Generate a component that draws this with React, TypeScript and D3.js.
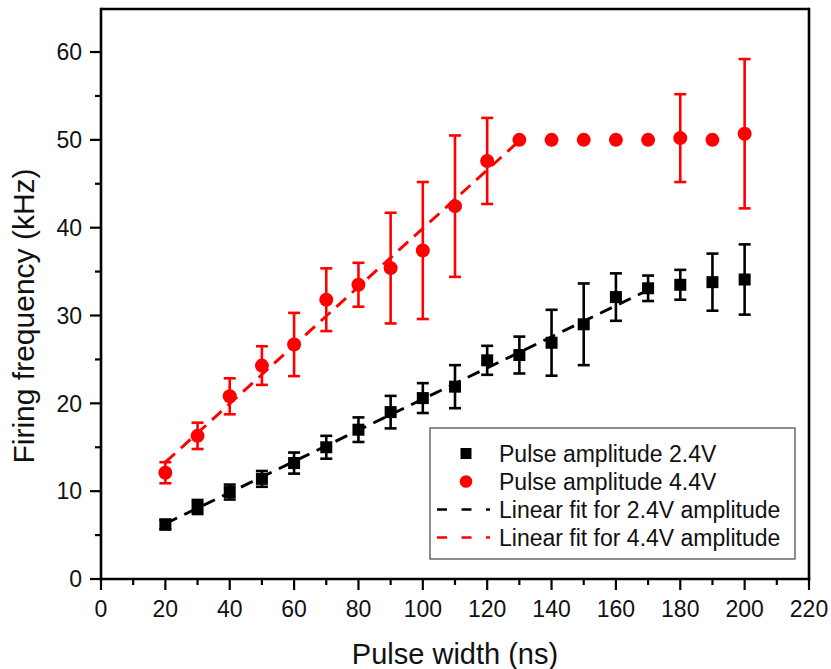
import React from "react";
import * as d3 from "d3";

const pulseWidths = [20, 30, 40, 50, 60, 70, 80, 90, 100, 110, 120, 130, 140, 150, 160, 170, 180, 190, 200];
const amp24 = [6.2, 8.2, 9.9, 11.4, 13.2, 15.0, 17.0, 19.0, 20.6, 21.9, 24.9, 25.5, 26.9, 29.0, 32.1, 33.1, 33.5, 33.8, 34.1];
const amp24Err = [0.55, 0.8, 0.85, 0.9, 1.2, 1.3, 1.4, 1.85, 1.7, 2.45, 1.65, 2.1, 3.75, 4.65, 2.7, 1.45, 1.7, 3.25, 4.0];
const amp44 = [12.1, 16.3, 20.8, 24.3, 26.7, 31.8, 33.5, 35.4, 37.4, 42.45, 47.6, 50, 50, 50, 50, 50, 50.2, 50, 50.7];
const amp44Err = [1.2, 1.5, 2.05, 2.2, 3.6, 3.57, 2.5, 6.3, 7.8, 8.05, 4.9, 0, 0, 0, 0, 0, 5.0, 0, 8.5];

const fit24X = [20, 170];
const fit24Y = [6.3, 32.9];
const fit44X = [20, 130];
const fit44Y = [13.3, 49.9];

const xTicks = [0, 20, 40, 60, 80, 100, 120, 140, 160, 180, 200, 220];
const xMinor = [10, 30, 50, 70, 90, 110, 130, 150, 170, 190, 210];
const yTicks = [0, 10, 20, 30, 40, 50, 60];
const yMinor = [5, 15, 25, 35, 45, 55];

const legendLabels = [
  "Pulse amplitude 2.4V",
  "Pulse amplitude 4.4V",
  "Linear fit for 2.4V amplitude",
  "Linear fit for 4.4V amplitude",
];

const FONT = "'Liberation Sans', Arial, Helvetica, sans-serif";
const RED = "#ff0000";
const BLACK = "#000000";

export default function App() {
  const x = d3.scaleLinear().domain([0, 220]).range([101, 809]);
  const y = d3.scaleLinear().domain([0, 64.9]).range([579, 9]);
  const line = d3
    .line<[number, number]>()
    .x((d) => x(d[0]))
    .y((d) => y(d[1]));

  const fit24 = fit24X.map((v, i) => [v, fit24Y[i]] as [number, number]);
  const fit44 = fit44X.map((v, i) => [v, fit44Y[i]] as [number, number]);

  const capW = 6;
  const errorBars = (vals: number[], errs: number[], color: string) =>
    pulseWidths.map((pw, i) => {
      const e = errs[i];
      if (!e) return null;
      const cx = x(pw);
      const y1 = y(vals[i] + e);
      const y2 = y(vals[i] - e);
      return (
        <g key={`e${color}${i}`} stroke={color} strokeWidth={2.6}>
          <line x1={cx} x2={cx} y1={y1} y2={y2} />
          <line x1={cx - capW} x2={cx + capW} y1={y1} y2={y1} />
          <line x1={cx - capW} x2={cx + capW} y1={y2} y2={y2} />
        </g>
      );
    });

  const plotL = x(0);
  const plotR = x(220);
  const plotT = y(64.9);
  const plotB = y(0);

  const legX = 430;
  const legY = 428;
  const legW = 365;
  const legH = 131;
  const rowY = [453.5, 481.5, 509.5, 537.5];

  return (
    <svg
      width={831}
      height={669}
      style={{ position: "absolute", left: 0, top: 0, background: "#fff" }}
      fontFamily={FONT}
    >
      <rect x={0} y={0} width={831} height={669} fill="#fff" />

      {/* fit lines */}
      <path d={line(fit24) || ""} fill="none" stroke={BLACK} strokeWidth={2.9} strokeDasharray="13,8" />
      <path d={line(fit44) || ""} fill="none" stroke={RED} strokeWidth={2.9} strokeDasharray="13,8" />

      {/* error bars */}
      {errorBars(amp24, amp24Err, BLACK)}
      {errorBars(amp44, amp44Err, RED)}

      {/* markers */}
      {pulseWidths.map((pw, i) => (
        <rect key={`s${i}`} x={x(pw) - 6} y={y(amp24[i]) - 6} width={12} height={12} fill={BLACK} />
      ))}
      {pulseWidths.map((pw, i) => (
        <circle key={`c${i}`} cx={x(pw)} cy={y(amp44[i])} r={7} fill={RED} />
      ))}

      {/* frame */}
      <line x1={plotL} x2={plotR} y1={plotT} y2={plotT} stroke="#000" strokeWidth={2.6} />
      <line x1={plotR} x2={plotR} y1={plotT - 1.3} y2={plotB} stroke="#000" strokeWidth={2.6} />
      <line x1={plotL} x2={plotL} y1={plotT - 1.3} y2={plotB + 1.3} stroke="#000" strokeWidth={2.6} />
      <line x1={plotL - 1.3} x2={plotR + 1.3} y1={plotB} y2={plotB} stroke="#000" strokeWidth={2.6} />

      {/* x ticks */}
      {xTicks.map((t) => (
        <g key={`xt${t}`}>
          <line x1={x(t)} x2={x(t)} y1={plotB} y2={plotB + 11} stroke="#000" strokeWidth={2.2} />
          <text x={x(t)} y={617} fontSize={23} textAnchor="middle" fill="#111">
            {t}
          </text>
        </g>
      ))}
      {xMinor.map((t) => (
        <line key={`xm${t}`} x1={x(t)} x2={x(t)} y1={plotB} y2={plotB + 6} stroke="#000" strokeWidth={2.2} />
      ))}

      {/* y ticks */}
      {yTicks.map((t) => (
        <g key={`yt${t}`}>
          <line x1={plotL - 11} x2={plotL} y1={y(t)} y2={y(t)} stroke="#000" strokeWidth={2.2} />
          <text x={82} y={y(t) + 8.3} fontSize={23} textAnchor="end" fill="#111">
            {t}
          </text>
        </g>
      ))}
      {yMinor.map((t) => (
        <line key={`ym${t}`} x1={plotL - 6} x2={plotL} y1={y(t)} y2={y(t)} stroke="#000" strokeWidth={2.2} />
      ))}

      {/* axis titles */}
      <text x={455} y={664} fontSize={29} textAnchor="middle" fill="#111">
        Pulse width (ns)
      </text>
      <text
        transform={`translate(34,${316}) rotate(-90)`}
        fontSize={30}
        textAnchor="middle"
        fill="#111"
      >
        Firing frequency (kHz)
      </text>

      {/* legend */}
      <rect x={legX} y={legY} width={legW} height={legH} fill="#fff" stroke="#444" strokeWidth={1.2} />
      <rect x={466 - 5.5} y={rowY[0] - 5.5} width={11} height={11} fill={BLACK} />
      <circle cx={466} cy={rowY[1]} r={6.3} fill={RED} />
      <line x1={437} x2={490} y1={rowY[2]} y2={rowY[2]} stroke={BLACK} strokeWidth={2.6} strokeDasharray="10,14.5" />
      <line x1={437} x2={490} y1={rowY[3]} y2={rowY[3]} stroke={RED} strokeWidth={2.6} strokeDasharray="10,14.5" />
      {legendLabels.map((l, i) => (
        <text key={l} x={499} y={rowY[i] + 8} fontSize={23} fill="#111">
          {l}
        </text>
      ))}
    </svg>
  );
}
